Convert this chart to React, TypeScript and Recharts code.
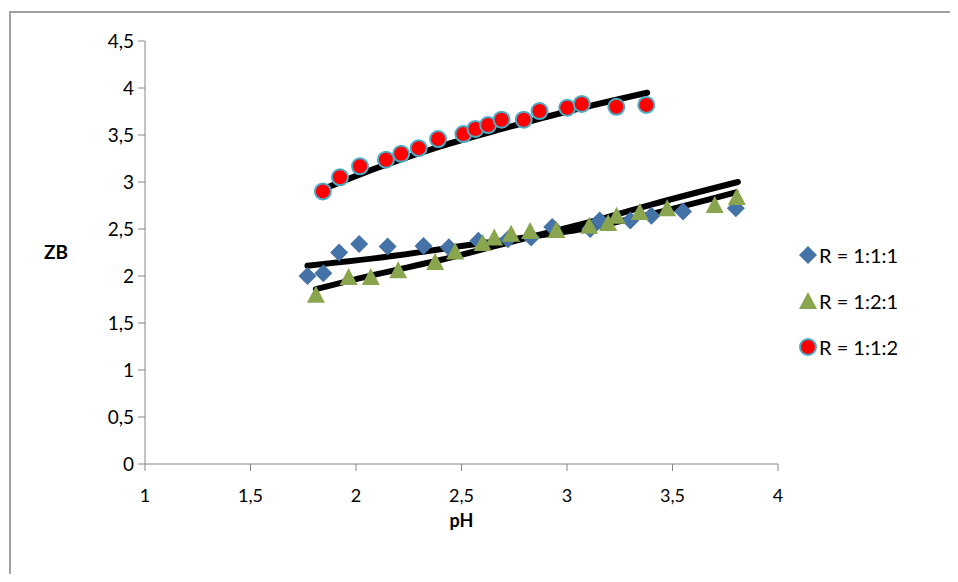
import React from "react";
import {
  ComposedChart,
  Line,
  Scatter,
  XAxis,
  YAxis,
} from "recharts";

// valeurs
const ph111 = [1.77, 1.845, 1.92, 2.015, 2.15, 2.32, 2.44, 2.58, 2.72, 2.83, 2.93, 3.11, 3.155, 3.3, 3.4, 3.55, 3.8];
const zb111 = [2.0, 2.03, 2.25, 2.34, 2.315, 2.32, 2.305, 2.375, 2.39, 2.41, 2.52, 2.5, 2.59, 2.59, 2.64, 2.685, 2.72];

const ph121 = [1.81, 1.965, 2.07, 2.2, 2.375, 2.47, 2.6, 2.655, 2.735, 2.825, 2.95, 3.105, 3.195, 3.235, 3.345, 3.475, 3.7, 3.805];
const zb121 = [1.8, 1.99, 1.99, 2.06, 2.15, 2.26, 2.35, 2.41, 2.45, 2.48, 2.49, 2.535, 2.565, 2.64, 2.68, 2.72, 2.755, 2.84];

const ph112 = [1.843, 1.924, 2.019, 2.142, 2.214, 2.297, 2.389, 2.509, 2.566, 2.626, 2.69, 2.795, 2.87, 3.001, 3.07, 3.234, 3.376];
const zb112 = [2.9, 3.05, 3.167, 3.237, 3.3, 3.36, 3.457, 3.51, 3.564, 3.606, 3.663, 3.663, 3.755, 3.79, 3.83, 3.8, 3.82];

// courbes de tendance (noires)
const trendPh111 = [1.77, 2.2, 2.5, 2.8, 3.1, 3.4, 3.8];
const trendZb111 = [2.11, 2.22, 2.32, 2.41, 2.51, 2.66, 2.89];
const trendPh121 = [1.81, 2.1, 2.4, 2.8, 3.1, 3.4, 3.81];
const trendZb121 = [1.86, 2.02, 2.17, 2.4, 2.57, 2.76, 3.0];
const trendPh112 = [1.84, 2.1, 2.4, 2.7, 3.0, 3.38];
const trendZb112 = [2.92, 3.15, 3.38, 3.57, 3.75, 3.95];

const xTicks = [1, 1.5, 2, 2.5, 3, 3.5, 4];
const yTicks = [0, 0.5, 1, 1.5, 2, 2.5, 3, 3.5, 4, 4.5];

const seriesNames = ["R = 1:1:1", "R = 1:2:1", "R = 1:1:2"];

const toPoints = (xs: number[], ys: number[]) => xs.map((x, i) => ({ x, y: ys[i] }));

const BLUE = "#4572a7";
const GREEN = "#89a54e";
const RED = "#ff0000";
const TEAL = "#4bacc6";
const FONT = "Lato, 'Noto Sans', sans-serif";

const fmt = (v: number) => String(v).replace(".", ",");

const Diamond = ({ cx, cy }: any) => (
  <path d={`M${cx},${cy - 9}L${cx + 9},${cy}L${cx},${cy + 9}L${cx - 9},${cy}Z`} fill={BLUE} />
);
const Triangle = ({ cx, cy }: any) => (
  <path d={`M${cx},${cy - 9}L${cx + 9},${cy + 8}L${cx - 9},${cy + 8}Z`} fill={GREEN} />
);
const Dot = ({ cx, cy }: any) => (
  <circle cx={cx} cy={cy} r={8} fill={RED} stroke={TEAL} strokeWidth={2} />
);

const markers = [Diamond, Triangle, Dot];

export default function App() {
  const d111 = toPoints(ph111, zb111);
  const d121 = toPoints(ph121, zb121);
  const d112 = toPoints(ph112, zb112);

  return (
    <div style={{ position: "relative", width: 950, height: 566, fontFamily: FONT, overflow: "hidden" }}>
      <style>{"html,body{overflow:hidden}"}</style>
      <div
        style={{
          position: "absolute",
          left: 1,
          top: 3,
          width: 949,
          height: 563,
          borderLeft: "2px solid #a0a0a0",
          borderTop: "2px solid #a0a0a0",
          boxSizing: "border-box",
        }}
      />
      <div style={{ position: "absolute", left: 0, top: 0 }}>
        <ComposedChart
          width={942}
          height={566}
          margin={{ top: 33, right: 172, bottom: 40, left: 20 }}
        >
          <XAxis
            type="number"
            dataKey="x"
            domain={[1, 4]}
            ticks={xTicks}
            tickFormatter={fmt}
            allowDataOverflow
            height={70}
            stroke="#868686"
            tickSize={7}
            tickMargin={18}
            tick={{ fill: "#000", fontSize: 18, fontFamily: FONT }}
            label={{ value: "pH", position: "insideBottom", offset: 7, fill: "#000", fontSize: 18, fontWeight: 700, fontFamily: FONT }}
          />
          <YAxis
            type="number"
            dataKey="y"
            domain={[0, 4.5]}
            ticks={yTicks}
            tickFormatter={fmt}
            allowDataOverflow
            width={117}
            stroke="#868686"
            tickSize={7}
            tickMargin={4}
            tick={{ fill: "#000", fontSize: 19, fontFamily: FONT }}
            label={{ value: "ZB", position: "insideLeft", offset: 16, fill: "#000", fontSize: 19, fontWeight: 700, fontFamily: FONT }}
          />
          <Line data={toPoints(trendPh111, trendZb111)} dataKey="y" type="monotone" stroke="#000" strokeWidth={6} strokeLinecap="round" dot={false} isAnimationActive={false} />
          <Line data={toPoints(trendPh121, trendZb121)} dataKey="y" type="monotone" stroke="#000" strokeWidth={6} strokeLinecap="round" dot={false} isAnimationActive={false} />
          <Line data={toPoints(trendPh112, trendZb112)} dataKey="y" type="monotone" stroke="#000" strokeWidth={6} strokeLinecap="round" dot={false} isAnimationActive={false} />
          <Scatter name={seriesNames[0]} data={d111} dataKey="y" shape={Diamond} isAnimationActive={false} />
          <Scatter name={seriesNames[1]} data={d121} dataKey="y" shape={Triangle} isAnimationActive={false} />
          <Scatter name={seriesNames[2]} data={d112} dataKey="y" shape={Dot} isAnimationActive={false} />
        </ComposedChart>
      </div>
      <div style={{ position: "absolute", left: 790, top: 224 }}>
        {seriesNames.map((name, i) => {
          const M = markers[i];
          return (
            <div key={name} style={{ display: "flex", alignItems: "center", height: 46, fontSize: 20, color: "#000" }}>
              <svg width={20} height={22} style={{ marginRight: 1 }}>
                <M cx={10} cy={11} />
              </svg>
              {name}
            </div>
          );
        })}
      </div>
    </div>
  );
}
